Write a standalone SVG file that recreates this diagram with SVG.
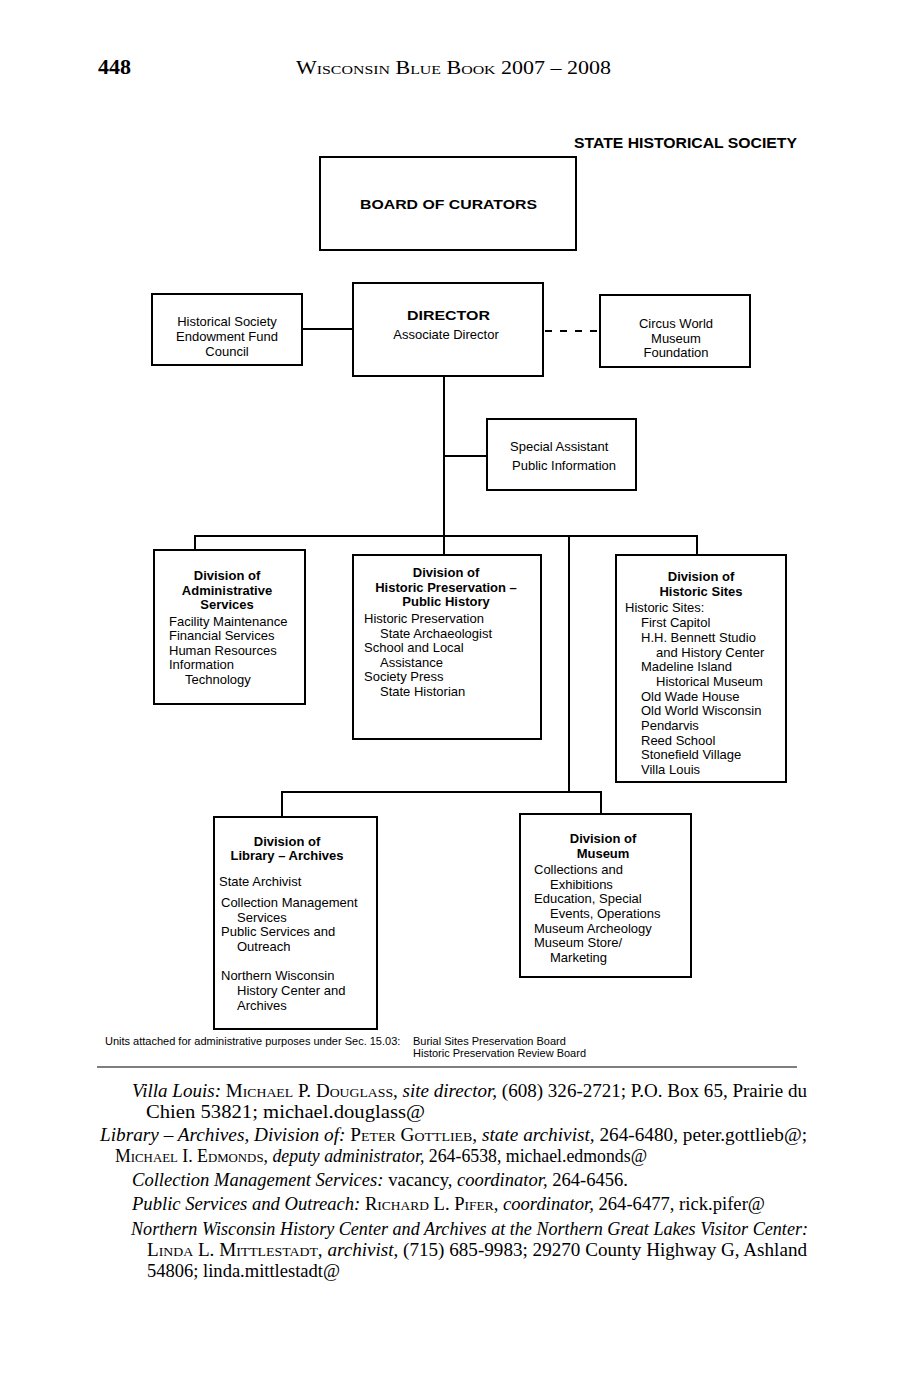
<svg xmlns="http://www.w3.org/2000/svg" width="907" height="1380" viewBox="0 0 907 1380">
<style>
.box{fill:#fff;stroke:#000;stroke-width:2}
.ln{fill:none;stroke:#000;stroke-width:2}
.s{font-family:"Liberation Sans",Arial,sans-serif;font-size:13px;fill:#000}
.c{text-anchor:middle}
.b{font-weight:bold}
.f{font-family:"Liberation Sans",Arial,sans-serif;font-size:11px;fill:#000}
.r{font-family:"Liberation Serif","Times New Roman",serif;font-size:18px;fill:#000}
.i{font-style:italic}
.sc{font-variant:small-caps}
</style>
<rect width="907" height="1380" fill="#fff"/>
<g id="header">
<text x="98" y="74" font-family="Liberation Serif,serif" font-weight="bold" font-size="22" textLength="33" lengthAdjust="spacingAndGlyphs">448</text>
<text x="296" y="74" class="r sc" font-size="23" textLength="315" lengthAdjust="spacingAndGlyphs">Wisconsin Blue Book 2007 – 2008</text>
<text x="574" y="148" font-family="Liberation Sans,Arial,sans-serif" font-weight="bold" font-size="15" textLength="223" lengthAdjust="spacingAndGlyphs">STATE HISTORICAL SOCIETY</text>
</g>
<g id="connectors">
<line class="ln" x1="302" y1="329" x2="353" y2="329"/>
<line class="ln" x1="545" y1="331" x2="598" y2="331" stroke-dasharray="7,8"/>
<line class="ln" x1="444" y1="376" x2="444" y2="555"/>
<line class="ln" x1="444" y1="456" x2="487" y2="456"/>
<polyline class="ln" points="195,550 195,536 697,536 697,555"/>
<line class="ln" x1="569" y1="536" x2="569" y2="792"/>
<polyline class="ln" points="282,817 282,792 601,792 601,814"/>
</g>
<g id="board">
<rect class="box" x="320" y="157" width="256" height="93"/>
<text class="s b" x="360" y="209" font-size="16" textLength="177" lengthAdjust="spacingAndGlyphs">BOARD OF CURATORS</text>
</g>
<g id="endowment">
<rect class="box" x="152" y="294" width="150" height="71"/>
<text class="s c" x="227" y="326">Historical Society</text>
<text class="s c" x="227" y="341">Endowment Fund</text>
<text class="s c" x="227" y="356">Council</text>
</g>
<g id="director">
<rect class="box" x="353" y="283" width="190" height="93"/>
<text class="s b" x="407" y="320" font-size="17" textLength="83" lengthAdjust="spacingAndGlyphs">DIRECTOR</text>
<text class="s c" x="446" y="339">Associate Director</text>
</g>
<g id="circus">
<rect class="box" x="600" y="295" width="150" height="72"/>
<text class="s c" x="676" y="328">Circus World</text>
<text class="s c" x="676" y="343">Museum</text>
<text class="s c" x="676" y="357">Foundation</text>
</g>
<g id="special">
<rect class="box" x="487" y="419" width="149" height="71"/>
<text class="s" x="510" y="451">Special Assistant</text>
<text class="s" x="512" y="470">Public Information</text>
</g>
<g id="admin">
<rect class="box" x="154" y="550" width="151" height="154"/>
<text class="s c b" x="227" y="580">Division of</text>
<text class="s c b" x="227" y="595">Administrative</text>
<text class="s c b" x="227" y="609">Services</text>
<text class="s" x="169" y="626">Facility Maintenance</text>
<text class="s" x="169" y="640">Financial  Services</text>
<text class="s" x="169" y="655">Human Resources</text>
<text class="s" x="169" y="669">Information</text>
<text class="s" x="185" y="684">Technology</text>
</g>
<g id="histpres">
<rect class="box" x="353" y="555" width="188" height="184"/>
<text class="s c b" x="446" y="577">Division of</text>
<text class="s c b" x="446" y="592">Historic Preservation –</text>
<text class="s c b" x="446" y="606">Public History</text>
<text class="s" x="364" y="623">Historic Preservation</text>
<text class="s" x="380" y="638">State Archaeologist</text>
<text class="s" x="364" y="652">School and Local</text>
<text class="s" x="380" y="667">Assistance</text>
<text class="s" x="364" y="681">Society Press</text>
<text class="s" x="380" y="696">State Historian</text>
</g>
<g id="sites">
<rect class="box" x="616" y="555" width="170" height="227"/>
<text class="s c b" x="701" y="581">Division of</text>
<text class="s c b" x="701" y="596">Historic Sites</text>
<text class="s" x="625" y="612">Historic Sites:</text>
<text class="s" x="641" y="627">First Capitol</text>
<text class="s" x="641" y="642">H.H. Bennett Studio</text>
<text class="s" x="656" y="657">and History Center</text>
<text class="s" x="641" y="671">Madeline Island</text>
<text class="s" x="656" y="686">Historical Museum</text>
<text class="s" x="641" y="701">Old Wade House</text>
<text class="s" x="641" y="715">Old World Wisconsin</text>
<text class="s" x="641" y="730">Pendarvis</text>
<text class="s" x="641" y="745">Reed School</text>
<text class="s" x="641" y="759">Stonefield Village</text>
<text class="s" x="641" y="774">Villa Louis</text>
</g>
<g id="library">
<rect class="box" x="214" y="817" width="163" height="212"/>
<text class="s c b" x="287" y="846">Division of</text>
<text class="s c b" x="287" y="860">Library – Archives</text>
<text class="s" x="219" y="886">State Archivist</text>
<text class="s" x="221" y="907">Collection Management</text>
<text class="s" x="237" y="922">Services</text>
<text class="s" x="221" y="936">Public Services and</text>
<text class="s" x="237" y="951">Outreach</text>
<text class="s" x="221" y="980">Northern Wisconsin</text>
<text class="s" x="237" y="995">History Center and</text>
<text class="s" x="237" y="1010">Archives</text>
</g>
<g id="museum">
<rect class="box" x="520" y="814" width="171" height="163"/>
<text class="s c b" x="603" y="843">Division of</text>
<text class="s c b" x="603" y="858">Museum</text>
<text class="s" x="534" y="874">Collections and</text>
<text class="s" x="550" y="889">Exhibitions</text>
<text class="s" x="534" y="903">Education, Special</text>
<text class="s" x="550" y="918">Events, Operations</text>
<text class="s" x="534" y="933">Museum Archeology</text>
<text class="s" x="534" y="947">Museum Store/</text>
<text class="s" x="550" y="962">Marketing</text>
</g>
<g id="notes">
<text class="f" x="105" y="1045">Units attached for administrative purposes under Sec. 15.03:</text>
<text class="f" x="413" y="1045">Burial Sites Preservation Board</text>
<text class="f" x="413" y="1057">Historic Preservation Review Board</text>
<line x1="97" y1="1067" x2="797" y2="1067" stroke="#555" stroke-width="1.5"/>
</g>
<g id="body">
<text class="r" x="132" y="1097" textLength="675" lengthAdjust="spacingAndGlyphs"><tspan class="i">Villa Louis:</tspan> <tspan class="sc">Michael P. Douglass</tspan>, <tspan class="i">site director,</tspan> (608) 326-2721; P.O. Box 65, Prairie du</text>
<text class="r" x="146" y="1118" textLength="279" lengthAdjust="spacingAndGlyphs">Chien 53821; michael.douglass@</text>
<text class="r" x="100" y="1141" textLength="707" lengthAdjust="spacingAndGlyphs"><tspan class="i">Library – Archives, Division of:</tspan> <tspan class="sc">Peter Gottlieb</tspan>, <tspan class="i">state archivist,</tspan> 264-6480, peter.gottlieb@;</text>
<text class="r" x="115" y="1162" textLength="532" lengthAdjust="spacingAndGlyphs"><tspan class="sc">Michael I. Edmonds</tspan>, <tspan class="i">deputy administrator,</tspan> 264-6538, michael.edmonds@</text>
<text class="r" x="132" y="1186" textLength="496" lengthAdjust="spacingAndGlyphs"><tspan class="i">Collection Management Services:</tspan> vacancy, <tspan class="i">coordinator,</tspan> 264-6456.</text>
<text class="r" x="132" y="1210" textLength="633" lengthAdjust="spacingAndGlyphs"><tspan class="i">Public Services and Outreach:</tspan> <tspan class="sc">Richard L. Pifer</tspan>, <tspan class="i">coordinator,</tspan> 264-6477, rick.pifer@</text>
<text class="r i" x="131" y="1235" textLength="677" lengthAdjust="spacingAndGlyphs">Northern Wisconsin History Center and Archives at the Northern Great Lakes Visitor Center:</text>
<text class="r" x="147" y="1256" textLength="660" lengthAdjust="spacingAndGlyphs"><tspan class="sc">Linda L. Mittlestadt</tspan>, <tspan class="i">archivist</tspan>, (715) 685-9983; 29270 County Highway G, Ashland</text>
<text class="r" x="147" y="1277" textLength="193" lengthAdjust="spacingAndGlyphs">54806; linda.mittlestadt@</text>
</g>
</svg>
